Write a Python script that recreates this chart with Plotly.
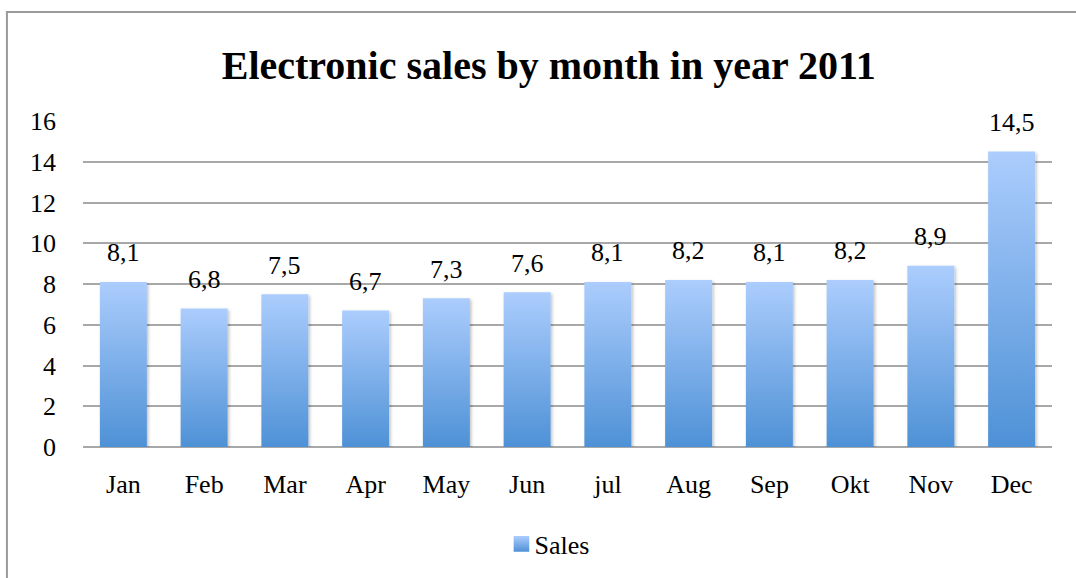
import plotly.graph_objects as go

# Monthly electronic sales, 2011
months = ["Jan", "Feb", "Mar", "Apr", "May", "Jun", "jul", "Aug", "Sep", "Okt", "Nov", "Dec"]
sales = [8.1, 6.8, 7.5, 6.7, 7.3, 7.6, 8.1, 8.2, 8.1, 8.2, 8.9, 14.5]
y_ticks = [0, 2, 4, 6, 8, 10, 12, 14, 16]

SERIF = "Liberation Serif"
TEXT_SIZE = 26

fig = go.Figure()
fig.add_trace(go.Bar(
    x=months,
    y=sales,
    name="Sales",
    marker=dict(color="#7aaee8", line=dict(width=0)),
    hoverinfo="x+y",
))

# value labels above each bar, decimal comma
fig.update_layout(separators=", ")
for m, v in zip(months, sales):
    fig.add_annotation(
        x=m, y=v, xref="x", yref="y",
        text=f"{v:.1f}".replace(".", ","),
        showarrow=False, yanchor="middle", yshift=29,
        font=dict(family=SERIF, size=TEXT_SIZE, color="#000000"),
    )

# outer chart frame
fig.add_shape(
    type="rect", xref="paper", yref="paper",
    x0=-0.0785, y0=-0.6, x1=1.2, y1=1.334,
    line=dict(color="#9a9a9a", width=2), fillcolor="rgba(0,0,0,0)",
    layer="below",
)

fig.update_layout(
    width=1076,
    height=578,
    margin=dict(l=83, r=24, t=121, b=131),
    paper_bgcolor="white",
    plot_bgcolor="white",
    bargap=0.418,
    title=dict(
        text="<b>Electronic sales by month in year 2011</b>",
        x=0.51, xanchor="center", xref="container",
        y=1 - 65 / 578, yanchor="middle", yref="container",
        font=dict(family=SERIF, size=40, color="#000000"),
    ),
    showlegend=True,
    legend=dict(
        orientation="h", x=0.506, xanchor="center", xref="container",
        y=1 - 544 / 578, yanchor="middle", yref="container",
        font=dict(family=SERIF, size=TEXT_SIZE, color="#000000"),
        itemwidth=30,
    ),
    xaxis=dict(
        showgrid=False, showline=False, zeroline=False,
        ticks="", ticklabelstandoff=19,
        tickfont=dict(family=SERIF, size=TEXT_SIZE, color="#000000"),
    ),
    yaxis=dict(
        range=[0, 16], tickvals=y_ticks,
        showgrid=True, gridcolor="#a8a8a8", gridwidth=1.8,
        zeroline=True, zerolinecolor="#a8a8a8", zerolinewidth=1.8,
        showline=False, ticks="", ticklabelstandoff=26,
        tickfont=dict(family=SERIF, size=TEXT_SIZE, color="#000000"),
    ),
)

# vertical gradient and soft shadow for bars and the legend swatch
post_js = """
var gd = document.getElementById('{plot_id}');
function styleBars() {
  var svg = gd.querySelector('.main-svg');
  if (!svg) return;
  var ns = 'http://www.w3.org/2000/svg';
  var defs = svg.querySelector('defs');
  if (!defs) { defs = document.createElementNS(ns, 'defs'); svg.insertBefore(defs, svg.firstChild); }
  if (!document.getElementById('barGrad')) {
    var g = document.createElementNS(ns, 'linearGradient');
    g.setAttribute('id', 'barGrad');
    g.setAttribute('x1', '0'); g.setAttribute('y1', '0');
    g.setAttribute('x2', '0'); g.setAttribute('y2', '1');
    [['0%', '#accdfd'], ['100%', '#4e91d6']].forEach(function (s) {
      var st = document.createElementNS(ns, 'stop');
      st.setAttribute('offset', s[0]);
      st.setAttribute('stop-color', s[1]);
      g.appendChild(st);
    });
    defs.appendChild(g);
    var f = document.createElementNS(ns, 'filter');
    f.setAttribute('id', 'barShadow');
    f.setAttribute('x', '-20%'); f.setAttribute('y', '-5%');
    f.setAttribute('width', '140%'); f.setAttribute('height', '115%');
    var ds = document.createElementNS(ns, 'feDropShadow');
    ds.setAttribute('dx', '1.5'); ds.setAttribute('dy', '1.5');
    ds.setAttribute('stdDeviation', '1.5');
    ds.setAttribute('flood-color', '#000000');
    ds.setAttribute('flood-opacity', '0.25');
    f.appendChild(ds);
    defs.appendChild(f);
  }
  gd.querySelectorAll('.bars .point path').forEach(function (p) {
    p.style.fill = 'url(#barGrad)';
    p.style.filter = 'url(#barShadow)';
  });
  gd.querySelectorAll('.legendpoints path').forEach(function (p) {
    p.style.fill = 'url(#barGrad)';
    p.setAttribute('transform', 'translate(27,0) scale(1.3)');
  });
}
styleBars();
gd.on('plotly_afterplot', styleBars);
"""

fig.write_html("out.html", post_script=post_js)
